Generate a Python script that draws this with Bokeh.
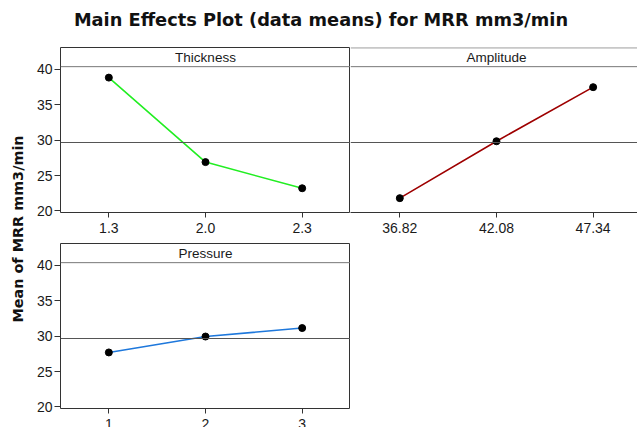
import math
from bokeh.plotting import figure
from bokeh.models import Range1d, FixedTicker, Span, Label, Row
from bokeh.layouts import row, column
from bokeh.embed import file_html
from bokeh.resources import INLINE

# ---- data ----
thickness_levels = ["1.3", "2.0", "2.3"]
thickness_means = [38.85, 26.9, 23.2]
amplitude_levels = ["36.82", "42.08", "47.34"]
amplitude_means = [21.8, 29.85, 37.5]
pressure_levels = ["1", "2", "3"]
pressure_means = [27.7, 29.95, 31.15]
grand_mean = 29.67
y_ticks = [20, 25, 30, 35, 40]

title_text = "Main Effects Plot (data means) for MRR mm3/min"
y_label_text = "Mean of MRR mm3/min"

# ---- geometry / style ----
Y_BOTTOM, Y_TOP, HEADER_Y = 19.77, 43.11, 40.4
CAT_PX = 96.67
FRAME_H = 165
TICK_FONT = "Liberation Sans"
DARK = "#333333"


def panel(levels, means, color, header, frame_w, x_start, left_axis, outline):
    x = list(range(1, len(levels) + 1))
    border_left = 30 if left_axis else 0
    p = figure(width=frame_w + border_left, height=FRAME_H + 31,
               x_range=Range1d(x_start, x_start + frame_w / CAT_PX),
               y_range=Range1d(Y_BOTTOM, Y_TOP),
               output_backend="svg", toolbar_location=None,
               y_axis_location="left" if left_axis else None,
               min_border_left=border_left, min_border_right=0,
               min_border_top=0, min_border_bottom=31,
               width_policy="fixed", height_policy="fixed")
    p.xgrid.visible = False
    p.ygrid.visible = False
    p.outline_line_color = DARK if outline else None
    p.background_fill_color = "white"
    p.border_fill_color = "white"

    ax = p.xaxis[0]
    ax.ticker = FixedTicker(ticks=x)
    ax.major_label_overrides = {xi: lab for xi, lab in zip(x, levels)}
    ax.axis_line_color = None if outline else DARK
    ax.major_tick_out = 5
    ax.major_tick_in = 0
    ax.major_tick_line_color = DARK
    ax.minor_tick_line_color = None
    ax.major_label_standoff = 5
    ax.major_label_text_font = TICK_FONT
    ax.major_label_text_font_size = "14px"
    ax.major_label_text_color = "#1a1a1a"

    if left_axis:
        ay = p.yaxis[0]
        ay.ticker = FixedTicker(ticks=y_ticks)
        ay.axis_line_color = None
        ay.major_tick_out = 6
        ay.major_tick_in = 0
        ay.major_tick_line_color = DARK
        ay.minor_tick_line_color = None
        ay.major_label_standoff = 2
        ay.major_label_text_font = TICK_FONT
        ay.major_label_text_font_size = "14px"
        ay.major_label_text_color = "#1a1a1a"

    p.add_layout(Span(location=grand_mean, dimension="width",
                      line_color="#555555", line_width=1))
    p.add_layout(Span(location=HEADER_Y, dimension="width",
                      line_color="#777777", line_width=1))
    if not outline:
        p.add_layout(Span(location=Y_TOP - 0.04, dimension="width",
                          line_color="#666666", line_width=1))
    p.add_layout(Label(x=x[len(x) // 2], y=(Y_TOP + HEADER_Y) / 2, text=header,
                       text_align="center", text_baseline="middle",
                       text_font=TICK_FONT, text_font_size="13.5px",
                       text_color="#1a1a1a"))

    p.line(x, means, line_color=color, line_width=1.6)
    p.scatter(x, means, size=7, fill_color="black", line_color="black")
    return p


thick = panel(thickness_levels, thickness_means, "#22EE22", "Thickness",
              290, 0.5, True, True)
amp = panel(amplitude_levels, amplitude_means, "#9E0000", "Amplitude",
            287, 0.49, False, False)
press = panel(pressure_levels, pressure_means, "#1E78DC", "Pressure",
              290, 0.5, True, True)

# title
title_fig = figure(width=637, height=47, x_range=Range1d(0, 637), y_range=Range1d(0, 47),
                   output_backend="svg", toolbar_location=None,
                   x_axis_location=None, y_axis_location=None, min_border=0)
title_fig.grid.visible = False
title_fig.outline_line_color = None
title_fig.add_layout(Label(x=320.5, y=28, text=title_text, text_align="center",
                           text_baseline="middle", text_font="DejaVu Sans",
                           text_font_style="bold", text_font_size="17.8px",
                           text_color="#111111"))

# y-axis title spanning both rows
ylab = figure(width=30, height=380, x_range=Range1d(0, 30), y_range=Range1d(0, 380),
              output_backend="svg", toolbar_location=None,
              x_axis_location=None, y_axis_location=None, min_border=0)
ylab.grid.visible = False
ylab.outline_line_color = None
ylab.add_layout(Label(x=17.5, y=198.5, text=y_label_text, angle=math.pi / 2,
                      text_align="center", text_baseline="middle",
                      text_font="DejaVu Sans", text_font_style="bold",
                      text_font_size="14.4px", text_color="#111111"))

bottom_row = Row(children=[press], width=320, height=184, styles={"overflow": "hidden"})
right_col = column(row(thick, amp), bottom_row)
root = column(title_fig, row(ylab, right_col))

open("out.html", "w").write(file_html(root, INLINE))
